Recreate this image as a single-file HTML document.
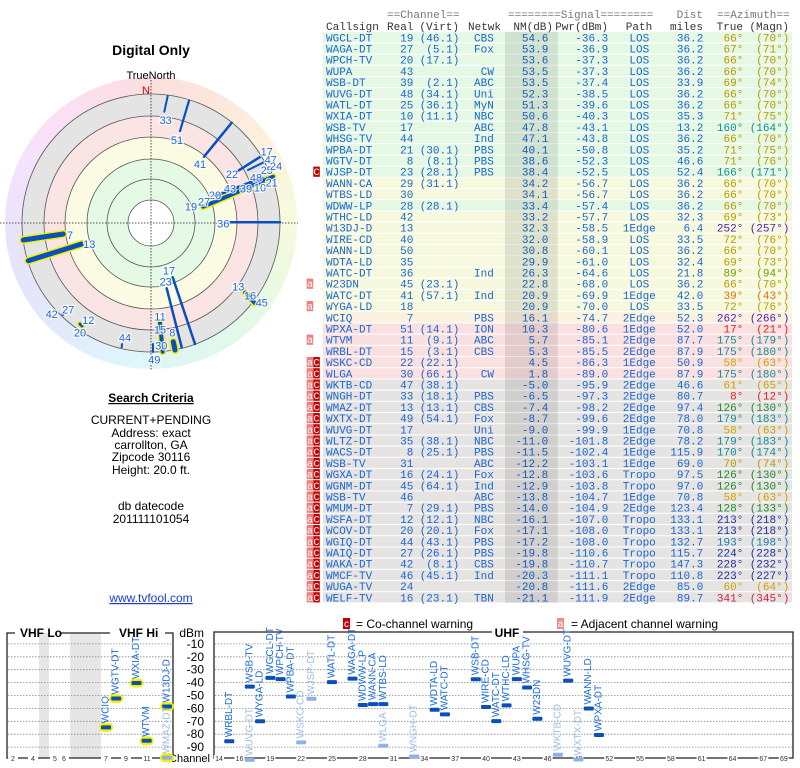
<!DOCTYPE html>
<html><head><meta charset="utf-8">
<style>
html,body{margin:0;padding:0;background:#fff;width:800px;height:768px;overflow:hidden;position:relative}
#hue{position:absolute;left:5px;top:77px;width:292px;height:292px;border-radius:50%;opacity:0.75;
background:conic-gradient(from 0deg,#fbd4d4,#fbe0d0 30deg,#fbf0d0 60deg,#f4f9d4 90deg,#dcf8dc 130deg,#d4f4ec 165deg,#d4f2fb 190deg,#d8e0fb 225deg,#e0dafb 260deg,#f4d8fb 300deg,#fbd4e8 335deg,#fbd4d4)}
svg{position:absolute;left:0;top:0}
</style></head><body>
<div id="hue"></div>
<svg id="s" width="800" height="768" xmlns="http://www.w3.org/2000/svg" font-family="Liberation Sans, sans-serif">
<g id="polar">
<circle cx="151" cy="223" r="129" fill="#e4e4e4"/>
<circle cx="151" cy="223" r="107" fill="#fbe4e4"/>
<circle cx="151" cy="223" r="86" fill="#fafbe2"/>
<circle cx="151" cy="223" r="64" fill="#e4fae4"/>
<circle cx="151" cy="223" r="23" fill="#fff"/>
<g fill="none" stroke="#555" stroke-width="0.8">
<circle cx="151" cy="223" r="129"/><circle cx="151" cy="223" r="107"/><circle cx="151" cy="223" r="86"/><circle cx="151" cy="223" r="64"/><circle cx="151" cy="223" r="44"/><circle cx="151" cy="223" r="23"/>
</g>
<line x1="0" y1="223" x2="298" y2="223" stroke="#222" stroke-dasharray="1.5,1.5" stroke-width="0.8"/>
<line x1="151" y1="80" x2="151" y2="370" stroke="#222" stroke-dasharray="1.5,1.5" stroke-width="0.8"/>
</g>
<text x="151" y="55" text-anchor="middle" font-size="14" font-weight="bold">Digital Only</text>
<text x="151" y="79" text-anchor="middle" font-size="11">TrueNorth</text>
<text x="146" y="94" text-anchor="middle" font-size="11" fill="#d00">N</text>
<g id="pl"></g>
<g font-size="12" text-anchor="middle">
<text x="151" y="402" font-weight="bold" text-decoration="underline">Search Criteria</text>
<text x="151" y="424">CURRENT+PENDING</text>
<text x="151" y="437">Address: exact</text>
<text x="151" y="449">carrollton, GA</text>
<text x="151" y="461">Zipcode 30116</text>
<text x="151" y="474">Height: 20.0 ft.</text>
<text x="151" y="510">db datecode</text>
<text x="151" y="523">201111101054</text>
<text x="151" y="602" fill="#1a3ad0" text-decoration="underline">www.tvfool.com</text>
</g>
<g id="tb" font-family="Liberation Mono, monospace" font-size="11"></g>
<g id="bt"></g>
</svg>
<script>
var NS="http://www.w3.org/2000/svg";
function el(p,t,a,txt){var e=document.createElementNS(NS,t);for(var k in a)e.setAttribute(k,a[k]);if(txt!==undefined)e.textContent=txt;p.appendChild(e);return e;}
var pl=document.getElementById('pl');
var lines=[[167.7,96,164.3,111.7,2,0],[189,100.7,180,131,2.2,0],[231.7,122.7,204,156.7,2.5,0],[260,157,236.7,171.7,2.5,0],[265,161.7,248,170,2,0],
[273,176.7,203.3,206.7,4,1],[262,178,215,196,3,0],[230,222.3,280,222.3,2.5,0],[23.3,240,63.3,234,5,1],[28.3,260.7,81.7,244,5,1],
[172.7,277.3,195,344,2.5,0],[166.7,288.3,181.7,347.3,2.5,0],[173.3,341.7,175,350,5,1],[160,323,162.7,351.7,4,1],[122,344,121.7,347.3,2,0],[245,292.7,255,303.3,4,1],[80,324,82,326,3,1],[62,314,63,315,2,0],[153,344,153,352,2,0]];
lines.forEach(function(l){if(l[5])el(pl,'line',{x1:l[0],y1:l[1],x2:l[2],y2:l[3],stroke:'#f0f000','stroke-width':l[4]+3,'stroke-linecap':'round'});
el(pl,'line',{x1:l[0],y1:l[1],x2:l[2],y2:l[3],stroke:'#0a4fc0','stroke-width':l[4],'stroke-linecap':'round'});});
var lb=[["33",165.7,120],["51",177,140],["41",200,164],["22",232,174],["17",266.7,151.7],["47",270.7,159.3],["25",266.7,170],["24",276,166],["48",256,177.3],["43",230,188.7],["39",246,188.7],["10",260,187.3],["21",271.7,182.3],["20",215,195],["27",204,201.7],["19",191,206.7],["36",223.3,223.3],["7",70,235],["13",89.3,244],["17",169,270.7],["23",165.7,281.7],["13",238.3,286.7],["16",250,295.7],["45",261.7,302.3],["42",51.7,314],["27",68.3,309.3],["12",88.3,320],["20",80,332.7],["44",125,337.3],["11",160,316.7],["15",160,329.3],["8",172.3,332.7],["30",161.3,345.7],["49",154.3,359.3]];
lb.forEach(function(l){var a={x:l[1],y:l[2]+4,'text-anchor':'middle','font-size':11,fill:'#1a66d8',stroke:'rgba(255,255,255,0.8)','stroke-width':2.5,'paint-order':'stroke'};el(pl,'text',a,l[0]);});
var tb=document.getElementById('tb');
var G='#e4f8e4',Y='#f6f9de',O='#fbf1df',P='#fae0e0',R='#e6e3e3';
var rows=[
["","WGCL-DT","19","(46.1)","CBS","54.6","-36.3","LOS","36.2","66","70",G],
["","WAGA-DT","27","(5.1)","Fox","53.9","-36.9","LOS","36.2","67","71",G],
["","WPCH-TV","20","(17.1)","","53.6","-37.3","LOS","36.2","66","70",G],
["","WUPA","43","","CW","53.5","-37.3","LOS","36.2","66","70",G],
["","WSB-DT","39","(2.1)","ABC","53.5","-37.4","LOS","33.9","69","74",G],
["","WUVG-DT","48","(34.1)","Uni","52.3","-38.5","LOS","36.2","66","70",G],
["","WATL-DT","25","(36.1)","MyN","51.3","-39.6","LOS","36.2","66","70",G],
["","WXIA-DT","10","(11.1)","NBC","50.6","-40.3","LOS","35.3","71","75",G],
["","WSB-TV","17","","ABC","47.8","-43.1","LOS","13.2","160","164",G],
["","WHSG-TV","44","","Ind","47.1","-43.8","LOS","36.2","66","70",G],
["","WPBA-DT","21","(30.1)","PBS","40.1","-50.8","LOS","35.2","71","75",G],
["","WGTV-DT","8","(8.1)","PBS","38.6","-52.3","LOS","46.6","71","76",G],
["C","WJSP-DT","23","(28.1)","PBS","38.4","-52.5","LOS","52.4","166","171",G],
["","WANN-CA","29","(31.1)","","34.2","-56.7","LOS","36.2","66","70",Y],
["","WTBS-LD","30","","","34.1","-56.7","LOS","36.2","66","70",Y],
["","WDWW-LP","28","(28.1)","","33.4","-57.4","LOS","36.2","66","70",G],
["","WTHC-LD","42","","","33.2","-57.7","LOS","32.3","69","73",Y],
["","W13DJ-D","13","","","32.3","-58.5","1Edge","6.4","252","257",Y],
["","WIRE-CD","40","","","32.0","-58.9","LOS","33.5","72","76",Y],
["","WANN-LD","50","","","30.8","-60.1","LOS","36.2","66","70",Y],
["","WDTA-LD","35","","","29.9","-61.0","LOS","32.4","69","73",Y],
["","WATC-DT","36","","Ind","26.3","-64.6","LOS","21.8","89","94",Y],
["a","W23DN","45","(23.1)","","22.8","-68.0","LOS","36.2","66","70",Y],
["","WATC-DT","41","(57.1)","Ind","20.9","-69.9","1Edge","42.0","39","43",Y],
["a","WYGA-LD","18","","","20.9","-70.0","LOS","33.5","72","76",Y],
["","WCIQ","7","","PBS","16.1","-74.7","2Edge","52.3","262","266",O],
["","WPXA-DT","51","(14.1)","ION","10.3","-80.6","1Edge","52.0","17","21",P],
["a","WTVM","11","(9.1)","ABC","5.7","-85.1","2Edge","87.7","175","179",P],
["","WRBL-DT","15","(3.1)","CBS","5.3","-85.5","2Edge","87.9","175","180",P],
["aC","WSKC-CD","22","(22.1)","","4.5","-86.3","1Edge","50.9","58","63",P],
["aC","WLGA","30","(66.1)","CW","1.8","-89.0","2Edge","87.9","175","180",P],
["aC","WKTB-CD","47","(38.1)","","-5.0","-95.9","2Edge","46.6","61","65",R],
["aC","WNGH-DT","33","(18.1)","PBS","-6.5","-97.3","2Edge","80.7","8","12",R],
["aC","WMAZ-DT","13","(13.1)","CBS","-7.4","-98.2","2Edge","97.4","126","130",R],
["aC","WXTX-DT","49","(54.1)","Fox","-8.7","-99.6","2Edge","78.0","179","183",R],
["aC","WUVG-DT","17","","Uni","-9.0","-99.9","1Edge","70.8","58","63",R],
["aC","WLTZ-DT","35","(38.1)","NBC","-11.0","-101.8","2Edge","78.2","179","183",R],
["aC","WACS-DT","8","(25.1)","PBS","-11.5","-102.4","1Edge","115.9","170","174",R],
["aC","WSB-TV","31","","ABC","-12.2","-103.1","1Edge","69.0","70","74",R],
["aC","WGXA-DT","16","(24.1)","Fox","-12.8","-103.6","Tropo","97.5","126","130",R],
["aC","WGNM-DT","45","(64.1)","Ind","-12.9","-103.8","Tropo","97.0","126","130",R],
["aC","WSB-TV","46","","ABC","-13.8","-104.7","1Edge","70.8","58","63",R],
["aC","WMUM-DT","7","(29.1)","PBS","-14.0","-104.9","2Edge","123.4","128","133",R],
["aC","WSFA-DT","12","(12.1)","NBC","-16.1","-107.0","Tropo","133.1","213","218",R],
["aC","WCOV-DT","20","(20.1)","Fox","-17.1","-108.0","Tropo","133.1","213","218",R],
["aC","WGIQ-DT","44","(43.1)","PBS","-17.2","-108.0","Tropo","132.7","193","198",R],
["aC","WAIQ-DT","27","(26.1)","PBS","-19.8","-110.6","Tropo","115.7","224","228",R],
["aC","WAKA-DT","42","(8.1)","CBS","-19.8","-110.7","Tropo","147.3","228","232",R],
["aC","WMCF-TV","46","(45.1)","Ind","-20.3","-111.1","Tropo","110.8","223","227",R],
["aC","WUGA-TV","24","","","-20.8","-111.6","2Edge","85.0","60","64",R],
["aC","WELF-TV","16","(23.1)","TBN","-21.1","-111.9","2Edge","89.7","341","345",R]];
function azc(a){a=+a;if(a<30)return'#e02020';if(a<50)return'#e07010';if(a<65)return'#d0a000';if(a<80)return'#b89a00';if(a<100)return'#70a000';if(a<140)return'#208a30';if(a<185)return'#109090';if(a<205)return'#1880b0';if(a<240)return'#2030a0';if(a<280)return'#4a20b0';return'#d02040';}
var hg='#777';
el(tb,'text',{x:387,y:18,fill:hg},'==Channel==');
el(tb,'text',{x:508,y:18,fill:hg},'========Signal========');
el(tb,'text',{x:703,y:18,fill:hg,'text-anchor':'end'},'Dist');
el(tb,'text',{x:717,y:18,fill:hg},'==Azimuth==');
var h2=[['Callsign',326,'start'],['Real',387,'start'],['(Virt)',459,'end'],['Netwk',468,'start'],['NM(dB)',553,'end'],['Pwr(dBm)',608,'end'],['Path',639,'middle'],['miles',703,'end'],['True',743,'end'],['(Magn)',789,'end']];
h2.forEach(function(h){el(tb,'text',{x:h[1],y:30,fill:'#333','text-anchor':h[2]},h[0]);});
var y0=31.7,rh=11.2;
rows.forEach(function(r,i){var t=y0+i*rh;
el(tb,'rect',{x:323,y:t+0.5,width:469,height:rh-1,fill:r[11]});
var b=t+rh/2+4,c='#1a66d0';
if(r[0].indexOf('a')>=0){el(tb,'rect',{x:306.7,y:t+0.5,width:6.5,height:rh-1,fill:'#f07c7c'});el(tb,'text',{x:310,y:b-0.5,fill:'#fff','text-anchor':'middle','font-size':10},'a');}
if(r[0].indexOf('C')>=0){el(tb,'rect',{x:313.3,y:t+0.5,width:6.5,height:rh-1,fill:'#c00000'});el(tb,'text',{x:316.5,y:b-0.5,fill:'#fff','text-anchor':'middle','font-size':10},'C');}
el(tb,'text',{x:326,y:b,fill:c},r[1]);
el(tb,'text',{x:413.3,y:b,fill:c,'text-anchor':'end'},r[2]);
el(tb,'text',{x:459.3,y:b,fill:c,'text-anchor':'end'},r[3]);
el(tb,'text',{x:r[4]=='CW'?494:474,y:b,fill:c,'text-anchor':r[4]=='CW'?'end':'start'},r[4]);
el(tb,'text',{x:548.3,y:b,fill:c,'text-anchor':'end'},r[5]);
el(tb,'text',{x:608.3,y:b,fill:c,'text-anchor':'end'},r[6]);
el(tb,'text',{x:639.3,y:b,fill:c,'text-anchor':'middle'},r[7]);
el(tb,'text',{x:703.3,y:b,fill:c,'text-anchor':'end'},r[8]);
var ac=azc(r[9]);
el(tb,'text',{x:743.3,y:b,fill:ac,'text-anchor':'end'},r[9]+'\u00b0');
el(tb,'text',{x:789.3,y:b,fill:ac,'text-anchor':'end'},'('+r[10]+'\u00b0)');
});
el(tb,'rect',{x:505,y:y0,width:52.7,height:rows.length*rh,fill:'rgba(0,0,0,0.09)'});
var bt=document.getElementById('bt');
el(bt,'rect',{x:343,y:618,width:7,height:11,fill:'#c00000'});el(bt,'text',{x:346.5,y:627,'font-size':10,fill:'#fff','text-anchor':'middle'},'c');
el(bt,'text',{x:356,y:628,'font-size':12},'= Co-channel warning');
el(bt,'rect',{x:557,y:618,width:7,height:11,fill:'#f08a8a'});el(bt,'text',{x:560.5,y:627,'font-size':10,fill:'#fff','text-anchor':'middle'},'a');
el(bt,'text',{x:571,y:628,'font-size':12},'= Adjacent channel warning');
function yd(d){return 631+(-d)*1.29;}
el(bt,'rect',{x:39,y:633,width:10,height:125,fill:'#e6e6e6'});
el(bt,'rect',{x:70,y:633,width:31,height:125,fill:'#e6e6e6'});
for(var d=-10;d>=-90;d-=10){var yy=yd(d);
el(bt,'line',{x1:8,y1:yy,x2:172,y2:yy,stroke:'#888','stroke-dasharray':'1.5,1.5','stroke-width':0.8});
el(bt,'line',{x1:215,y1:yy,x2:792,y2:yy,stroke:'#888','stroke-dasharray':'1.5,1.5','stroke-width':0.8});
el(bt,'text',{x:204,y:yy+4,'font-size':12,'text-anchor':'end'},''+d);}
el(bt,'text',{x:204,y:637,'font-size':12,'text-anchor':'end'},'dBm');
el(bt,'text',{x:210,y:762,'font-size':11,'text-anchor':'end'},'Channel');
function bx(p){el(bt,'path',{d:p,fill:'none',stroke:'#222','stroke-width':1.3});}
bx('M60,633H110M165,633H173V758H7V633H15');
bx('M523,632H793V758H214V632H492');
el(bt,'text',{x:20,y:637,'font-size':12,'font-weight':'bold'},'VHF Lo');
el(bt,'text',{x:119,y:637,'font-size':12,'font-weight':'bold'},'VHF Hi');
el(bt,'text',{x:507,y:637,'font-size':12,'font-weight':'bold','text-anchor':'middle'},'UHF');
var tk=[[2,13],[4,33],[5,55],[6,64],[7,106],[9,126],[11,147],[13,167]];
function ux(c){return 219+(c-14)*10.27;}
[14,16,19,22,25,28,31,34,37,40,43,46,49,52,55,58,61,64,67,69].forEach(function(c){tk.push([c,ux(c)]);});
tk.forEach(function(t){el(bt,'rect',{x:t[1]-5,y:755,width:10,height:7,fill:'#fff'});el(bt,'text',{x:t[1],y:761,'font-size':7,'text-anchor':'middle',fill:'#333'},''+t[0]);});
function vx(c){return 106+(c-7)*10.17;}
var st=[["WCIQ",vx(7),-74.7,2],["WGTV-DT",vx(8),-52.3,2],["WXIA-DT",vx(10),-40.3,2],["WTVM",vx(11),-85.1,2],["W13DJ-D",vx(13),-58.5,2],["WMAZ-DT",vx(13),-98.2,3],
["WRBL-DT",ux(15),-85.5,0],["WUVG-DT",ux(17),-99.9,1],["WSB-TV",ux(17),-43.1,0],["WYGA-LD",ux(18),-70,0],["WGCL-DT",ux(19),-36.3,0],["WPCH-TV",ux(20),-37.3,0],["WPBA-DT",ux(21),-50.8,0],["WSKC-CD",ux(22),-86.3,1],["WJSP-DT",ux(23),-52.5,1],["WATL-DT",ux(25),-39.6,0],["WAGA-DT",ux(27),-36.9,0],["WDWW-LP",ux(28),-57.4,0],["WANN-CA",ux(29),-56.7,0],["WTBS-LD",ux(30),-56.7,0],["WLGA",ux(30),-89,1],["WNGH-DT",ux(33),-97.3,1],["WDTA-LD",ux(35),-61,0],["WATC-DT",ux(36),-64.6,0],["WSB-DT",ux(39),-37.4,0],["WIRE-CD",ux(40),-58.9,0],["WATC-DT",ux(41),-69.9,0],["WTHC-LD",ux(42),-57.7,0],["WUPA",ux(43),-37.3,0],["WHSG-TV",ux(44),-43.8,0],["W23DN",ux(45),-68,0],["WKTB-CD",ux(47),-95.9,1],["WUVG-DT",ux(48),-38.5,0],["WXTX-DT",ux(49),-99.6,1],["WANN-LD",ux(50),-60.1,0],["WPXA-DT",ux(51),-80.6,0]];
st.forEach(function(s){var x=s[1],y=yd(s[2]),lt=(s[3]==1||s[3]==3);
if(s[3]>=2)el(bt,'rect',{x:x-7,y:y-4.5,width:14,height:9,rx:4.5,fill:'#f4f000'});
el(bt,'rect',{x:x-5,y:y-2,width:10,height:4,rx:1,fill:lt?'#8fb2e6':'#0a50b8'});
el(bt,'text',{x:0,y:0,'font-size':10,fill:lt?'#9dbde8':'#1a6ad8','dominant-baseline':'central',transform:'translate('+x+','+(y-4)+') rotate(-90)'},s[0]);});
</script>
</body></html>
